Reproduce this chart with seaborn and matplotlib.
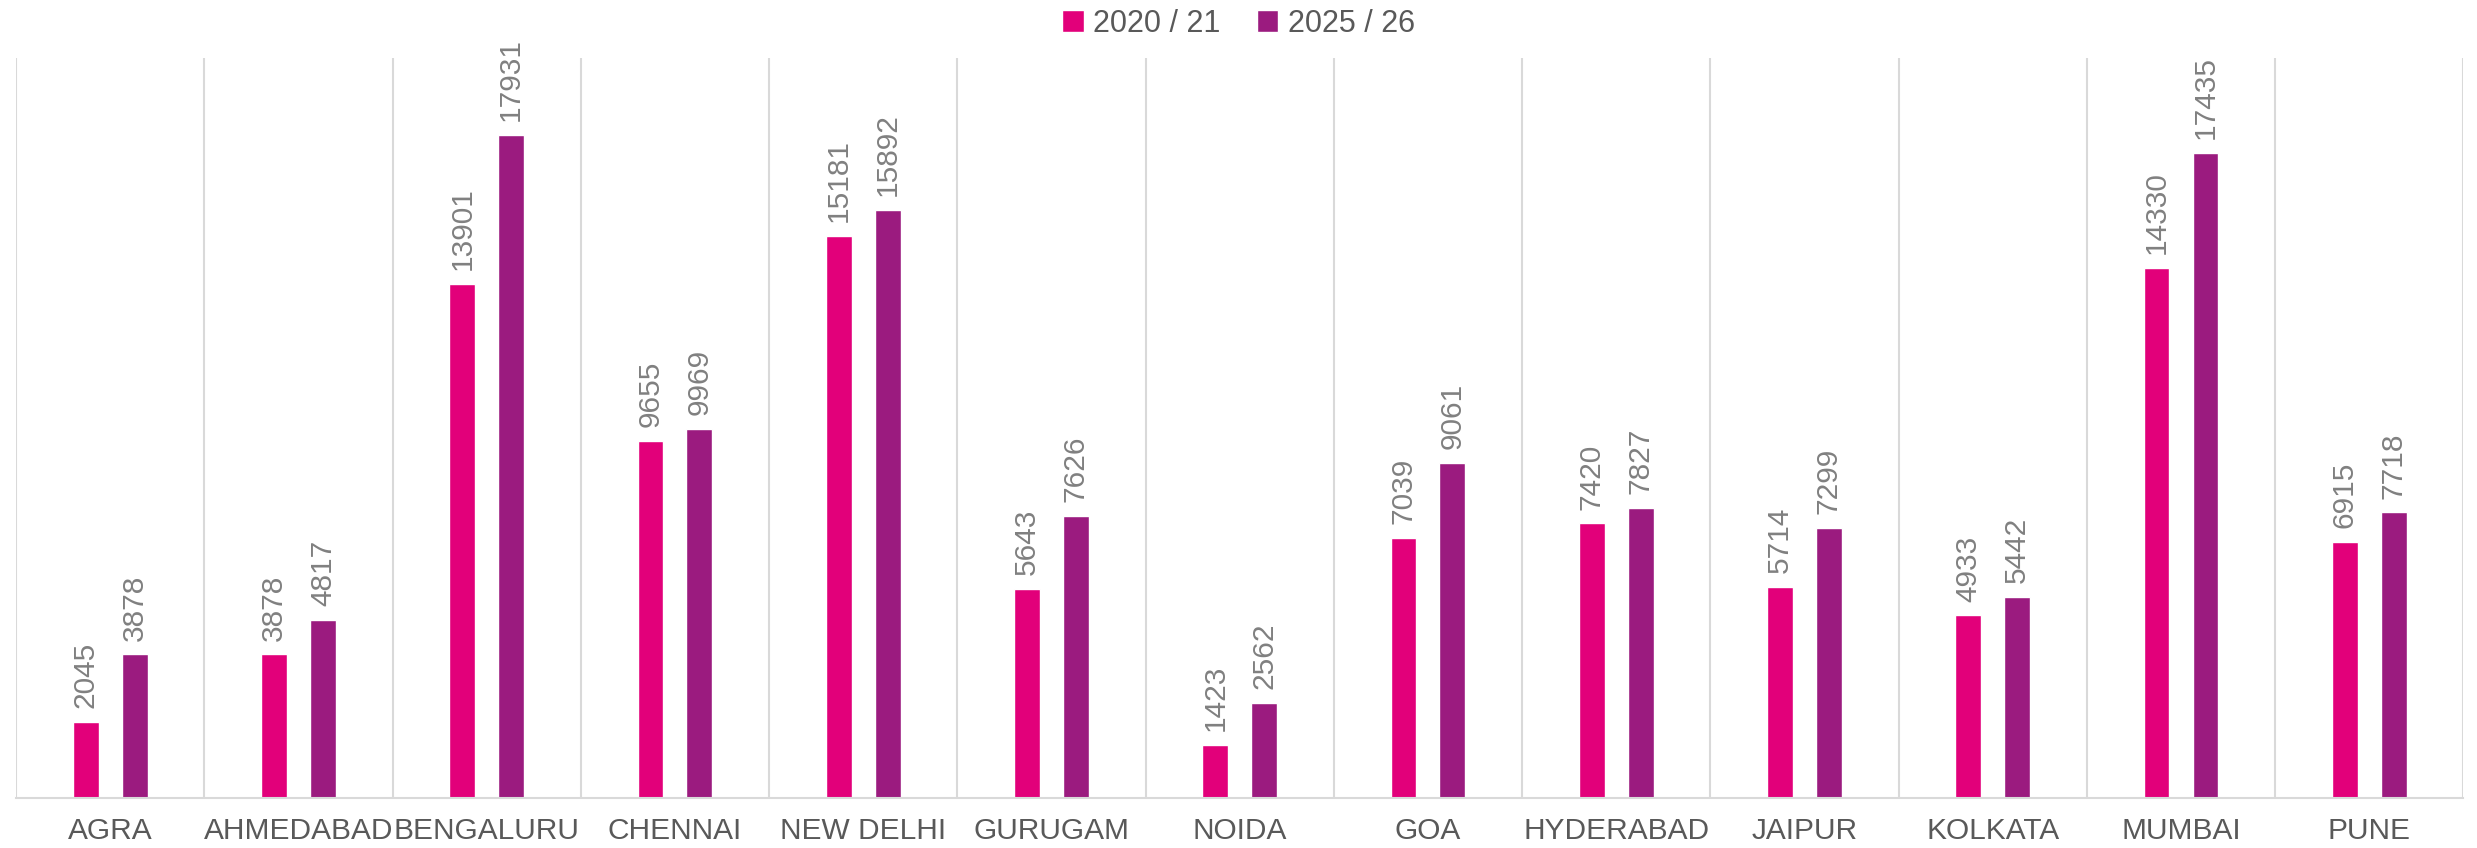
import numpy as np
import pandas as pd
import matplotlib
matplotlib.use("Agg")
import matplotlib.pyplot as plt
import seaborn as sns

cities = ["AGRA", "AHMEDABAD", "BENGALURU", "CHENNAI", "NEW DELHI", "GURUGAM", "NOIDA",
          "GOA", "HYDERABAD", "JAIPUR", "KOLKATA", "MUMBAI", "PUNE"]
periods = ["2020 / 21", "2025 / 26"]
v2020 = [2045, 3878, 13901, 9655, 15181, 5643, 1423, 7039, 7420, 5714, 4933, 14330, 6915]
v2025 = [3878, 4817, 17931, 9969, 15892, 7626, 2562, 9061, 7827, 7299, 5442, 17435, 7718]
colors = ["#E2007A", "#9B1B7F"]

df = pd.DataFrame({
    "city": cities * 2,
    "period": [periods[0]] * len(cities) + [periods[1]] * len(cities),
    "value": v2020 + v2025,
})

sns.set_theme(style="white")
plt.rcParams["font.family"] = ["Liberation Sans", "DejaVu Sans"]

fig = plt.figure(figsize=(24.77, 8.48), dpi=100)
ax = fig.add_axes([0.0065, 0.059, 0.988, 0.8726])

sns.barplot(data=df, x="city", y="value", hue="period", palette=colors,
            saturation=1, width=0.52, gap=0.47, ax=ax, legend=True)

for cont in ax.containers:
    ax.bar_label(cont, rotation=90, padding=10, fontsize=21.5, color="#808080")

ax.set_ylim(0, 20000)
ax.set_xlim(-0.5, len(cities) - 0.5)
ax.set_yticks([])
ax.set_xlabel("")
ax.set_ylabel("")
ax.tick_params(axis="x", length=0, pad=14, labelsize=21.5, labelcolor="#595959")

ax.set_xticks(np.arange(-0.5, len(cities), 1), minor=True)
ax.tick_params(axis="x", which="minor", length=0)
ax.grid(which="minor", axis="x", color="#D9D9D9", linewidth=1.5)
ax.set_axisbelow(True)

for s in ["top", "left", "right"]:
    ax.spines[s].set_visible(False)
ax.spines["bottom"].set_color("#D9D9D9")
ax.spines["bottom"].set_linewidth(1.5)

handles, labels = ax.get_legend_handles_labels()
ax.legend_.remove()
fig.legend(handles, labels, loc="center", bbox_to_anchor=(0.5, 0.972), ncol=2,
           frameon=False, fontsize=22, handlelength=0.7, handleheight=0.7,
           handletextpad=0.3, columnspacing=1.2, labelcolor="#595959")

fig.savefig("out.png", dpi=100)
